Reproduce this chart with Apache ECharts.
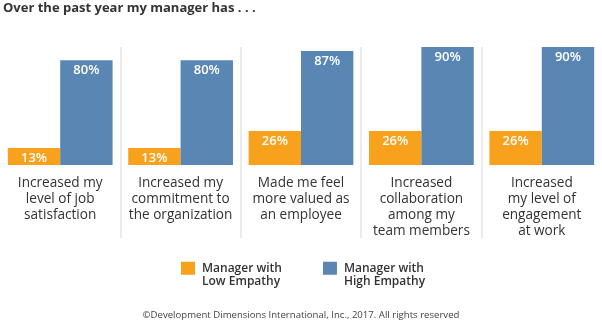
<!DOCTYPE html>
<html><head><meta charset="utf-8">
<script src="https://cdn.jsdelivr.net/npm/echarts@6/dist/echarts.min.js"></script>
<style>html,body{margin:0;padding:0;background:#fff}#c{width:602px;height:328px}</style>
</head><body><div id="c"></div>
<script>
var categories = [
  "Increased my\nlevel of job\nsatisfaction",
  "Increased my\ncommitment to\nthe organization",
  "Made me feel\nmore valued as\nan employee",
  "Increased\ncollaboration\namong my\nteam members",
  "Increased\nmy level of\nengagement\nat work"
];
var lowEmpathy = [13, 13, 26, 26, 26];
var highEmpathy = [80, 80, 87, 90, 90];
var seriesNames = ["Manager with\nLow Empathy", "Manager with\nHigh Empathy"];
var titleText = "Over the past year my manager has . . .";
var footerText = "\u00A9Development Dimensions International, Inc., 2017. All rights reserved";

var FONT = "Open Sans";
var chart = echarts.init(document.getElementById('c'));
var lbl = {show: true, position: 'insideTop', distance: 4, color: '#fff', fontSize: 13, fontFamily: FONT, fontWeight: 600, formatter: '{c}%'};
chart.setOption({
  animation: false,
  textStyle: {fontFamily: FONT},
  title: [
    {text: titleText, left: 3, top: 2, padding: 0, textStyle: {fontSize: 13, fontWeight: 'bold', color: '#333', fontFamily: FONT}},
    {text: footerText, left: 'center', top: 310, padding: 0, textStyle: {fontSize: 9.6, fontWeight: 'normal', color: '#444', fontFamily: FONT}}
  ],
  legend: {
    data: seriesNames, left: 181, top: 248, padding: 0, itemWidth: 14, itemHeight: 13, itemGap: 41,
    icon: 'rect', selectedMode: false,
    formatter: function (n) { return '\n' + n; },
    textStyle: {fontSize: 12, fontWeight: 600, color: '#333', lineHeight: 13.5, padding: [0, 0, 0, 2], fontFamily: FONT}
  },
  grid: [
    {left: 0, width: 605, top: 34, bottom: 163},
    {left: 0, width: 605, top: 47, bottom: 90}
  ],
  xAxis: [
    {type: 'category', gridIndex: 0, data: categories,
     axisLine: {show: false}, axisTick: {show: false},
     axisLabel: {interval: 0, margin: 10, fontSize: 13.6, lineHeight: 16, color: '#333', verticalAlign: 'top', fontFamily: FONT}},
    {type: 'category', gridIndex: 1, data: categories,
     axisLine: {show: false}, axisTick: {show: false}, axisLabel: {show: false},
     splitLine: {show: true, interval: 0, lineStyle: {color: ['rgba(0,0,0,0)', '#e5e5e5', '#e5e5e5', '#e5e5e5', '#e5e5e5', 'rgba(0,0,0,0)'], width: 1.5}}}
  ],
  yAxis: [
    {type: 'value', gridIndex: 0, min: 0, max: 100, show: false, splitLine: {show: false}},
    {type: 'value', gridIndex: 1, min: 0, max: 100, show: false, splitLine: {show: false}}
  ],
  series: [
    {name: seriesNames[0], type: 'bar', data: lowEmpathy, barGap: '0%', barCategoryGap: '13%', itemStyle: {color: '#F7A11C'}, label: lbl},
    {name: seriesNames[1], type: 'bar', data: highEmpathy, itemStyle: {color: '#5A86B4'}, label: lbl}
  ]
});
</script></body></html>
